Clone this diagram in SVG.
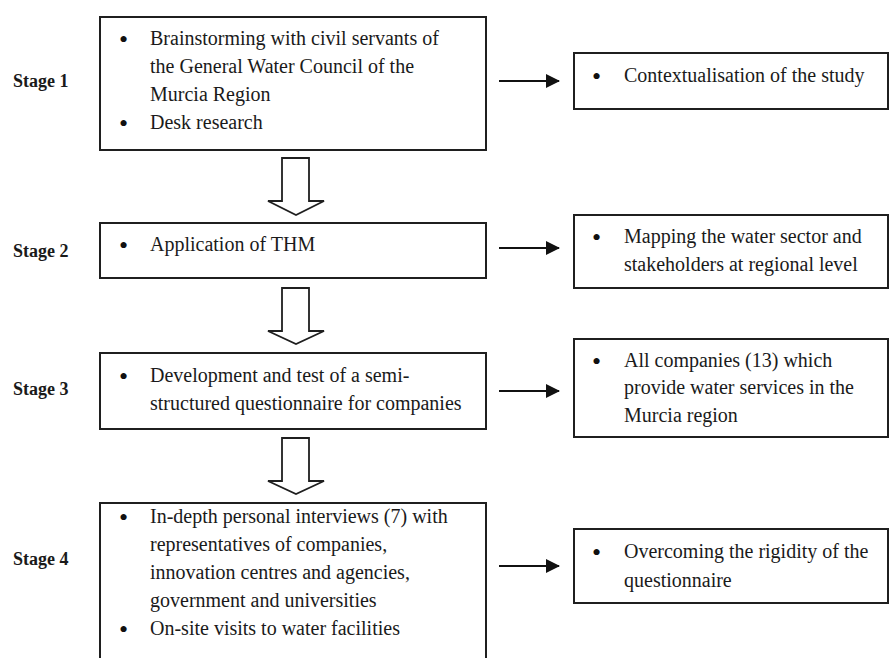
<svg xmlns="http://www.w3.org/2000/svg" width="889" height="658" viewBox="0 0 889 658">
<defs>
<style>
.box{fill:#fff;stroke:#1f1f1f;stroke-width:2}
.t{font-family:"Liberation Serif","Times New Roman",serif;font-size:20px;fill:#1a1a1a}
.b{font-family:"Liberation Serif","Times New Roman",serif;font-size:26px;fill:#111}
.st{font-family:"Liberation Serif","Times New Roman",serif;font-size:18px;font-weight:bold;fill:#1a1a1a}
.conn{stroke:#111;stroke-width:2.2;fill:none}
.hollow{fill:#fff;stroke:#1f1f1f;stroke-width:1.8;stroke-linejoin:miter}
</style>
<marker id="ah" viewBox="0 0 14 14" refX="13" refY="7" markerWidth="14" markerHeight="14" markerUnits="userSpaceOnUse" orient="auto">
<path d="M0,0 L14,7 L0,14 Z" fill="#111"/>
</marker>
</defs>
<rect width="889" height="658" fill="#fff"/>

<g id="labels">
<text class="st" x="13" y="87">Stage 1</text>
<text class="st" x="13" y="257">Stage 2</text>
<text class="st" x="13" y="395">Stage 3</text>
<text class="st" x="13" y="565">Stage 4</text>
</g>

<g id="stage1">
<rect class="box" x="100" y="17" width="386" height="133"/>
<text class="b" x="119" y="48">•</text>
<text class="t" x="150" y="45">Brainstorming with civil servants of</text>
<text class="t" x="150" y="73">the General Water Council of the</text>
<text class="t" x="150" y="101">Murcia Region</text>
<text class="b" x="119" y="132">•</text>
<text class="t" x="150" y="129">Desk research</text>
</g>

<g id="stage2">
<rect class="box" x="100" y="223" width="386" height="55"/>
<text class="b" x="119" y="254">•</text>
<text class="t" x="150" y="251">Application of THM</text>
</g>

<g id="stage3">
<rect class="box" x="100" y="353" width="386" height="76"/>
<text class="b" x="119" y="385">•</text>
<text class="t" x="150" y="382">Development and test of a semi-</text>
<text class="t" x="150" y="410">structured questionnaire for companies</text>
</g>

<g id="stage4">
<rect class="box" x="100" y="503" width="386" height="170"/>
<text class="b" x="119" y="526">•</text>
<text class="t" x="150" y="523">In-depth personal interviews (7) with</text>
<text class="t" x="150" y="551">representatives of companies,</text>
<text class="t" x="150" y="579">innovation centres and agencies,</text>
<text class="t" x="150" y="607">government and universities</text>
<text class="b" x="119" y="638">•</text>
<text class="t" x="150" y="635">On-site visits to water facilities</text>
</g>

<g id="result1">
<rect class="box" x="574" y="53" width="314" height="56"/>
<text class="b" x="592" y="85">•</text>
<text class="t" x="624" y="82">Contextualisation of the study</text>
</g>

<g id="result2">
<rect class="box" x="574" y="215" width="314" height="73"/>
<text class="b" x="592" y="246">•</text>
<text class="t" x="624" y="243">Mapping the water sector and</text>
<text class="t" x="624" y="271">stakeholders at regional level</text>
</g>

<g id="result3">
<rect class="box" x="574" y="339" width="314" height="98"/>
<text class="b" x="592" y="370">•</text>
<text class="t" x="624" y="367">All companies (13) which</text>
<text class="t" x="624" y="394">provide water services in the</text>
<text class="t" x="624" y="422">Murcia  region</text>
</g>

<g id="result4">
<rect class="box" x="574" y="529" width="314" height="74"/>
<text class="b" x="592" y="561">•</text>
<text class="t" x="624" y="558">Overcoming the rigidity of the</text>
<text class="t" x="624" y="587">questionnaire</text>
</g>

<g id="connectors">
<line class="conn" x1="499" y1="81" x2="559" y2="81" marker-end="url(#ah)"/>
<line class="conn" x1="499" y1="248" x2="559" y2="248" marker-end="url(#ah)"/>
<line class="conn" x1="499" y1="391" x2="559" y2="391" marker-end="url(#ah)"/>
<line class="conn" x1="499" y1="566" x2="559" y2="566" marker-end="url(#ah)"/>
<path class="hollow" d="M282,158 L309,158 L309,201 L324,201 L296,215 L268,201 L282,201 Z"/>
<path class="hollow" d="M282,288 L309,288 L309,331 L324,331 L296,344 L268,331 L282,331 Z"/>
<path class="hollow" d="M282,438 L309,438 L309,481 L324,481 L296,494 L268,481 L282,481 Z"/>
</g>
</svg>
